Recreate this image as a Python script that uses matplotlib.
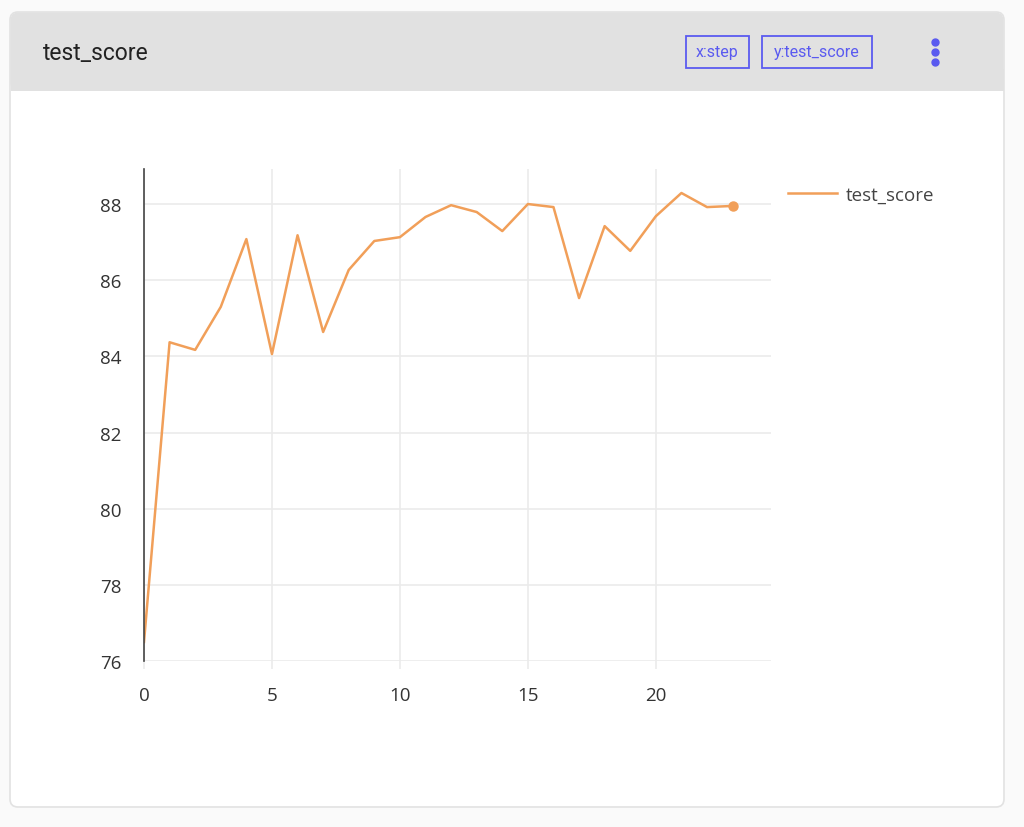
import matplotlib.pyplot as plt
from matplotlib.patches import FancyBboxPatch, Rectangle

steps = list(range(24))
test_score = [76.5, 84.37, 84.17, 85.3, 87.08, 84.06, 87.18, 84.64, 86.27, 87.03,
              87.13, 87.66, 87.97, 87.79, 87.29, 88.0, 87.92, 85.53, 87.42, 86.77,
              87.68, 88.29, 87.92, 87.95]
x_ticks = [0, 5, 10, 15, 20]
y_ticks = [76, 78, 80, 82, 84, 86, 88]

line_color = '#f19f59'
btn_color = '#5a5af0'

W, H = 1024, 828
fig = plt.figure(figsize=(W / 100, H / 100), dpi=100)
fig.patch.set_facecolor('#fafafa')

# background card drawn in pixel coordinates
bg = fig.add_axes([0, 0, 1, 1])
bg.set_xlim(0, W)
bg.set_ylim(H, 0)
bg.axis('off')
card = FancyBboxPatch((10, 13), 994, 795, boxstyle='round,pad=0,rounding_size=8',
                      facecolor='white', edgecolor='#e2e2e2', linewidth=1.2)
bg.add_patch(card)
header = FancyBboxPatch((10.5, 13.5), 993, 78, boxstyle='round,pad=0,rounding_size=8',
                        facecolor='#e1e1e1', edgecolor='none')
bg.add_patch(header)
bg.add_patch(Rectangle((10.5, 70), 993, 22, facecolor='#e1e1e1', edgecolor='none'))
bg.text(43, 53, 'test_score', fontsize=16.5, family='Roboto', color='#222222',
        va='center', ha='left')
bg.add_patch(Rectangle((686, 37), 63, 32, facecolor='none', edgecolor=btn_color, linewidth=1.3))
bg.text(717.5, 53, 'x:step', fontsize=11.5, family='Roboto', color=btn_color, va='center', ha='center')
bg.add_patch(Rectangle((762, 37), 110, 32, facecolor='none', edgecolor=btn_color, linewidth=1.3))
bg.text(817, 53, 'y:test_score', fontsize=11.5, family='Roboto', color=btn_color, va='center', ha='center')
for dy in (43, 53, 63):
    bg.plot(935, dy, 'o', color=btn_color, markersize=5)

# main chart
ax = fig.add_axes([144 / W, 1 - 662 / H, (771 - 144) / W, (662 - 170) / H])
ax.plot(steps, test_score, color=line_color, linewidth=1.8, label='test_score')
ax.plot(steps[-1], test_score[-1], 'o', color=line_color, markersize=6.5)
ax.set_xlim(0, 24.5)
ax.set_ylim(76, 88.92)
ax.set_xticks(x_ticks)
ax.set_yticks(y_ticks)
ax.grid(True, color='#ebebeb', linewidth=1.2)
ax.set_axisbelow(True)
for side in ('top', 'right', 'bottom'):
    ax.spines[side].set_visible(False)
ax.spines['left'].set_color('#444444')
ax.spines['left'].set_linewidth(1.2)
ax.tick_params(axis='y', length=0, pad=16, labelsize=13.5, labelcolor='#333333')
ax.tick_params(axis='x', length=6, color='#ebebeb', width=1.2, pad=12,
               labelsize=13.5, labelcolor='#333333')
for lbl in ax.get_xticklabels() + ax.get_yticklabels():
    lbl.set_family('Open Sans')

leg = ax.legend(loc='upper left', bbox_to_anchor=(1.0, 1.0), frameon=False,
                handlelength=2.6, handletextpad=0.5,
                prop={'family': 'Open Sans', 'size': 13.5})
for t in leg.get_texts():
    t.set_color('#444444')

fig.savefig('out.png', dpi=100, facecolor=fig.get_facecolor())
